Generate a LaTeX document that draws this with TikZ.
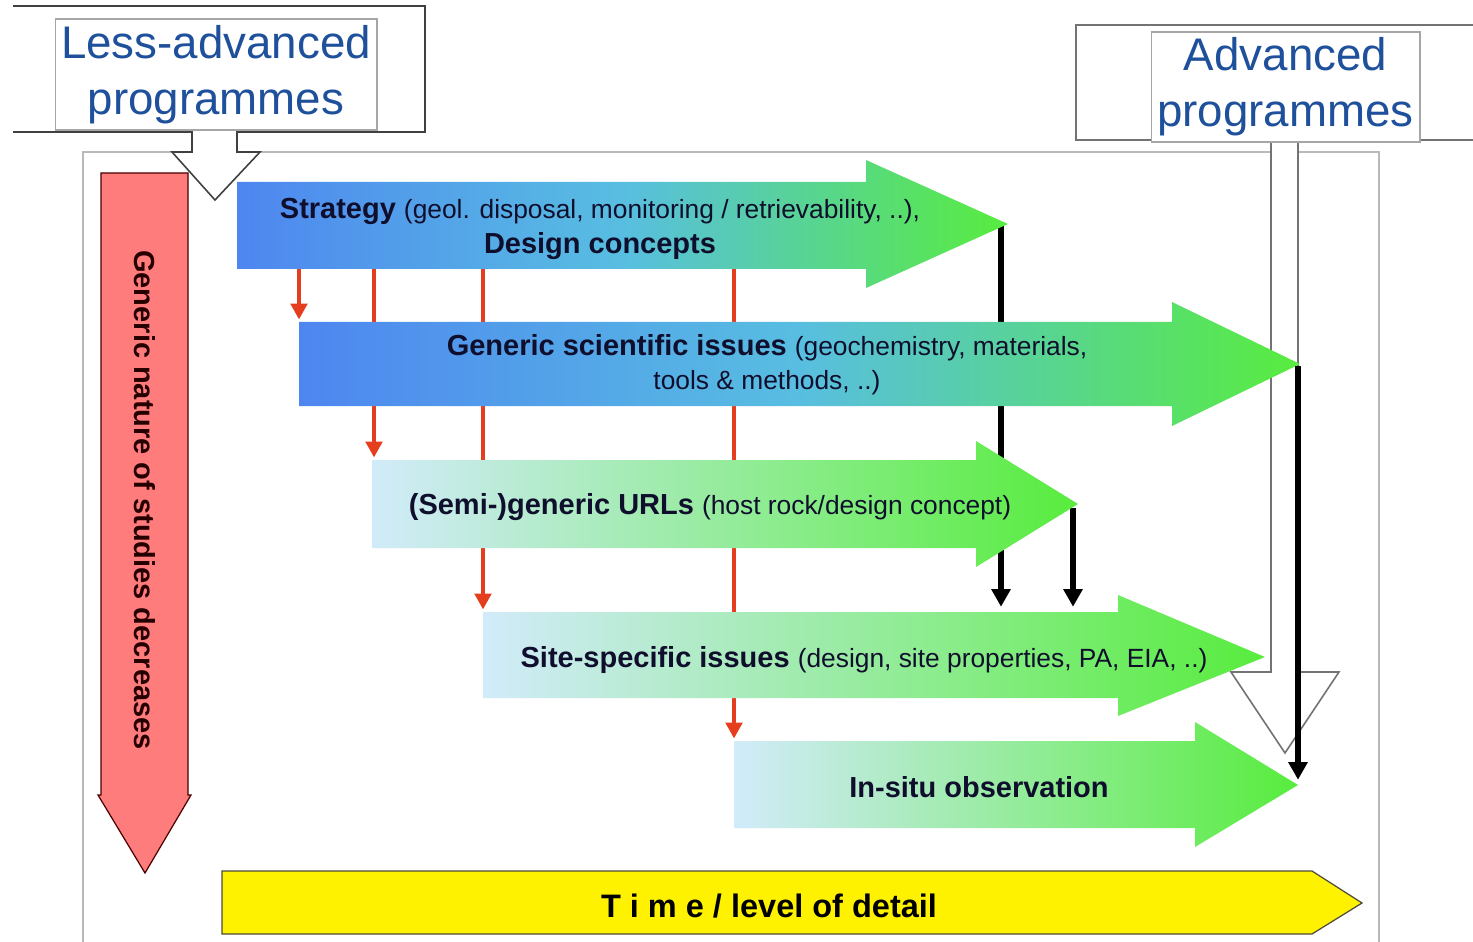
\documentclass[tikz,border=0pt]{standalone}
\usepackage{fontspec}
\setmainfont{Liberation Sans}
\usetikzlibrary{arrows.meta,fit}

\definecolor{deepblue}{RGB}{78,134,240}
\definecolor{midblue}{RGB}{88,190,225}
\definecolor{paleblue}{RGB}{210,235,250}
\definecolor{arrgreen}{RGB}{88,236,62}
\definecolor{redline}{RGB}{228,62,30}
\definecolor{salmon}{RGB}{255,124,124}
\definecolor{callblue}{RGB}{30,80,155}
\definecolor{inkdark}{RGB}{15,15,45}
\definecolor{framegray}{RGB}{185,185,185}

\newcommand{\detailtxt}[1]{{\mdseries\fontsize{15}{19}\selectfont #1}}

\tikzset{
  body/.style={inner sep=0pt, outer sep=0pt},
  arrtext/.style={align=center, text=inkdark, font=\fontsize{16.5}{19.5}\selectfont\bfseries},
  callbox/.style={draw=black!35, line width=0.6pt, fill=white, align=center, text=callblue,
    font=\fontsize{26}{32}\selectfont, inner sep=0pt},
  redarr/.style={draw=redline, line width=1.8pt, shorten >=1.5pt,
    -{Triangle[length=9pt, width=9.5pt]}},
  blackarr/.style={draw=black, line width=3pt, shorten >=3pt,
    -{Triangle[length=10pt, width=10.5pt]}},
  darkshade/.style={left color=deepblue, right color=arrgreen, middle color=midblue},
  paleshade/.style={left color=paleblue, right color=arrgreen}
}

\begin{document}
\begin{tikzpicture}[x=0.02cm, y=-0.02cm]
  \useasboundingbox (0,0) rectangle (1473,942);
  % frame
  \draw[framegray, line width=0.8pt] (83,942) -- (83,152) -- (1379,152) -- (1379,942);

  % callouts
  \draw[draw=black!75, line width=0.9pt, fill=white] (13,6) -- (425,6) -- (425,132) -- (237,132)
    -- (237,152) -- (260,152) -- (215,200) -- (172,152) -- (192,152) -- (192,132) -- (13,132);
  \node[callbox, minimum width=6.44cm, minimum height=2.22cm] (less) at (216,74.5) {Less-advanced\\programmes};
  \draw[draw=black!55, line width=0.9pt, fill=white] (1473,25) -- (1076,25) -- (1076,140) -- (1271,140)
    -- (1271,672) -- (1231,672) -- (1285,753) -- (1339,672) -- (1298,672) -- (1298,140) -- (1473,140);
  \node[callbox, minimum width=5.38cm, minimum height=2.2cm] (adv) at (1285.5,87) {Advanced\\programmes};

  % arrow bodies
  \node[body, fit={(237,182) (866,269)}] (strat) {};
  \node[body, fit={(299,322) (1172,406)}] (gensci) {};
  \node[body, fit={(372,460) (976,548)}] (semi) {};
  \node[body, fit={(483,612) (1118,698)}] (site) {};
  \node[body, fit={(734,741) (1195,828)}] (insitu) {};
  \coordinate (strat-tip) at (1001,226);
  \coordinate (gensci-tip) at (1298,366);
  \coordinate (semi-tip) at (1073,508);
  \coordinate (insitu-tip) at (1298,785);

  % red links
  \draw[redarr] (299,0 |- strat.south) -- (299,0 |- gensci.north);
  \draw[redarr] (374,0 |- strat.south) -- (374,0 |- semi.north);
  \draw[redarr] (483,0 |- strat.south) -- (483,0 |- site.north);
  \draw[redarr] (734,0 |- strat.south) -- (734,0 |- insitu.north);
  % black links
  \draw[blackarr] (strat-tip) -- (strat-tip |- site.north);
  \draw[blackarr] (semi-tip) -- (semi-tip |- site.north);

  % big arrows
  \shade[darkshade] (237,182) -- (866,182) -- (866,160) -- (1008,224) -- (866,288) -- (866,269) -- (237,269) -- cycle;
  \shade[darkshade] (299,322) -- (1172,322) -- (1172,302) -- (1300,364) -- (1172,426) -- (1172,406) -- (299,406) -- cycle;
  \shade[paleshade] (372,460) -- (976,460) -- (976,441) -- (1078,504) -- (976,567) -- (976,548) -- (372,548) -- cycle;
  \shade[paleshade] (483,612) -- (1118,612) -- (1118,595) -- (1265,657) -- (1118,716) -- (1118,698) -- (483,698) -- cycle;
  \shade[paleshade] (734,741) -- (1195,741) -- (1195,722) -- (1298,785) -- (1195,847) -- (1195,828) -- (734,828) -- cycle;

  \node[arrtext] (strat-txt) at (600,229) {Strategy \detailtxt{(geol. disposal, monitoring / retrievability, ..),}\\Design concepts};
  \node[arrtext] (gensci-txt) at (767,365) {Generic scientific issues \detailtxt{(geochemistry, materials,}\\\detailtxt{tools \& methods, ..)}};
  \node[arrtext] (semi-txt) at (710,507) {(Semi-)generic URLs \detailtxt{(host rock/design concept)}};
  \node[arrtext] (site-txt) at (864,660) {Site-specific issues \detailtxt{(design, site properties, PA, EIA, ..)}};
  \node[arrtext] (insitu-txt) at (979,787) {In-situ observation};

  \draw[blackarr] (gensci-tip) -- (insitu-tip);

  % generic nature arrow
  \draw[draw=black!70!red, line width=0.7pt, fill=salmon] (101,173) -- (188,173) -- (188,795) -- (191,795)
    -- (145,873) -- (98,795) -- (101,795) -- cycle;
  \node[rotate=-90, text=black!85!red, font=\fontsize{16.5}{20}\selectfont\bfseries] (studies) at (145,500)
    {Generic nature of studies decreases};

  % time arrow
  \draw[draw=black!80!yellow, line width=0.7pt, fill=yellow] (222,871) -- (1312,871) -- (1362,903)
    -- (1312,934) -- (222,934) -- cycle;
  \node[font=\fontsize{18.5}{22}\selectfont\bfseries] (time) at (769,906) {T i m e / level of detail};
\end{tikzpicture}
\end{document}
